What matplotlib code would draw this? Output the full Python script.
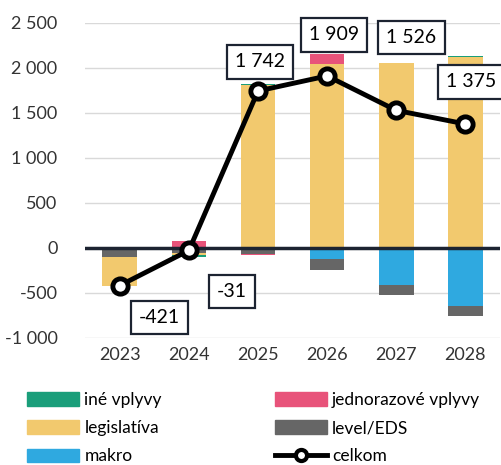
import numpy as np
import matplotlib
matplotlib.use("Agg")
import matplotlib.pyplot as plt
from matplotlib.patches import Patch
from matplotlib.lines import Line2D

plt.rcParams["font.family"] = ["Lato", "DejaVu Sans"]

# Data
years = ["2023", "2024", "2025", "2026", "2027", "2028"]
makro = [0, -20, 0, -130, -420, -650]
level_eds = [-105, -45, -70, -116, -110, -110]
legislativa = [-316, -20, 1805, 2045, 2050, 2125]
ine_vplyvy = [0, -21, 15, 0, 6, 10]
jednorazove = [0, 75, -8, 110, 0, 0]
celkom = [-421, -31, 1742, 1909, 1526, 1375]
label_offsets = [(40, -32), (43, -41), (2, 29), (7, 41), (15, 73), (6, 42)]  # pixels

series = [
    ("makro", makro, "#2fa9e0"),
    ("level/EDS", level_eds, "#666666"),
    ("legislatíva", legislativa, "#f2c96e"),
    ("iné vplyvy", ine_vplyvy, "#1a9e7a"),
    ("jednorazové vplyvy", jednorazove, "#e8537a"),
]

fig = plt.figure(figsize=(5.01, 4.65), dpi=100)
ax = fig.add_axes([0.17, 0.274, 0.828, 0.677])

x = np.arange(len(years))
pos_base = np.zeros(len(years))
neg_base = np.zeros(len(years))
for name, vals, color in series:
    vals = np.array(vals, dtype=float)
    bottoms = np.where(vals >= 0, pos_base, neg_base)
    ax.bar(x, vals, bottom=bottoms, width=0.5, color=color, zorder=2)
    pos_base += np.where(vals >= 0, vals, 0)
    neg_base += np.where(vals < 0, vals, 0)

ax.axhline(0, color="#1c2331", lw=2.5, zorder=3)
ax.plot(x, celkom, color="black", lw=3.5, marker="o", ms=11,
        mfc="white", mec="black", mew=3.5, zorder=4)

for xi, val, (dx, dy) in zip(x, celkom, label_offsets):
    txt = f"{val:,}".replace(",", " ")
    ax.annotate(txt, (xi, val), xytext=(dx, dy), textcoords="offset pixels",
                ha="center", va="center", fontsize=14, zorder=5,
                bbox=dict(boxstyle="square,pad=0.42", fc="white",
                          ec="#1c2331", lw=1.6))

ax.set_xlim(-0.5, 5.5)
ax.set_ylim(-1000, 2500)
ax.set_yticks(np.arange(-1000, 2501, 500))
ax.set_yticklabels([f"{v:,}".replace(",", " ") for v in range(-1000, 2501, 500)])
ax.set_xticks(x)
ax.set_xticklabels(years)
ax.tick_params(axis="both", length=0, labelsize=13, colors="#333333")
ax.tick_params(axis="y", pad=20)
ax.tick_params(axis="x", pad=7)
ax.grid(axis="y", color="#d9d9d9", lw=1, zorder=0)
for s in ax.spines.values():
    s.set_visible(False)

handles = [
    Patch(color="#1a9e7a", label="iné vplyvy"),
    Patch(color="#f2c96e", label="legislatíva"),
    Patch(color="#2fa9e0", label="makro"),
    Patch(color="#e8537a", label="jednorazové vplyvy"),
    Patch(color="#666666", label="level/EDS"),
    Line2D([0], [0], color="black", lw=3.5, marker="o", ms=8,
           mfc="white", mec="black", mew=3, label="celkom"),
]
fig.legend(handles=handles, ncol=2, loc="upper left",
           bbox_to_anchor=(0.04, 0.172), frameon=False, fontsize=12.5,
           handlelength=3.0, handleheight=0.8, handletextpad=0.3,
           columnspacing=6.5, labelspacing=0.7, borderaxespad=0)

fig.savefig("out.png", dpi=100)
